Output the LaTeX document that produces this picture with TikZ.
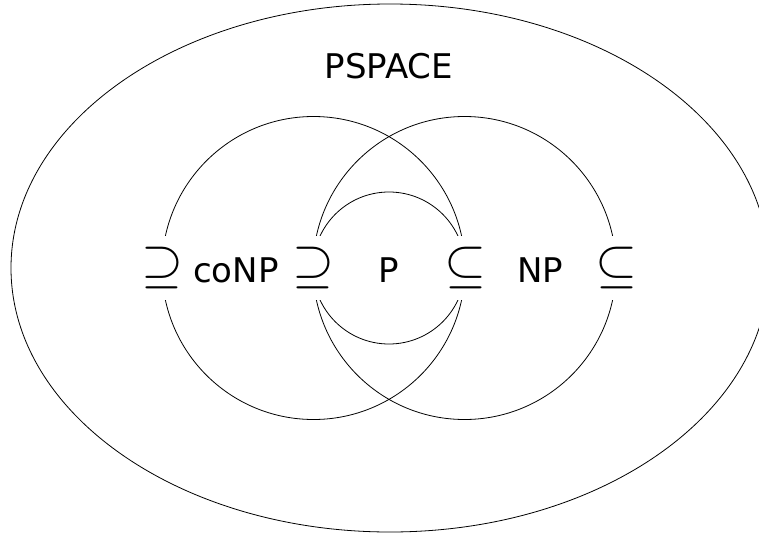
\documentclass[tikz,border=0pt]{standalone}
\usepackage{fontspec}
\setmainfont{DejaVu Sans}
\usepackage{graphicx}
\usetikzlibrary{shapes.geometric}
\begin{document}
\begin{tikzpicture}[x=1pt,y=-1pt, line width=0.8pt,
  lab/.style={font=\fontsize{34}{40}\selectfont, inner sep=0pt, anchor=base},
  rel/.style={fill=white, inner sep=0pt, minimum height=64pt, minimum width=36pt},
  ring/.style={draw, circle, inner sep=0pt}]
\useasboundingbox (0,0) rectangle (759,535);
\node[draw, ellipse, minimum width=758pt, minimum height=528pt, inner sep=0pt] (ps) at (390,268) {};
\node[ring, minimum size=303pt] (conp) at (313.5,268) {};
\node[ring, minimum size=303pt] (np) at (464.5,268) {};
\node[ring, minimum size=152pt] (p) at (389,268) {};
\node[rel] (s1) at (162,268) {\scalebox{5.4}{$\supseteq$}};
\node[rel] (s2) at (313,268) {\scalebox{5.4}{$\supseteq$}};
\node[rel] (s3) at (465,268) {\scalebox{5.4}{$\subseteq$}};
\node[rel] (s4) at (616,268) {\scalebox{5.4}{$\subseteq$}};
\node[lab] (lconp) at (236,282) {coNP};
\node[lab] (lp) at (389,282) {P};
\node[lab] (lnp) at (540,282) {NP};
\node[lab] (lps) at (389,78) {PSPACE};
\end{tikzpicture}
\end{document}
